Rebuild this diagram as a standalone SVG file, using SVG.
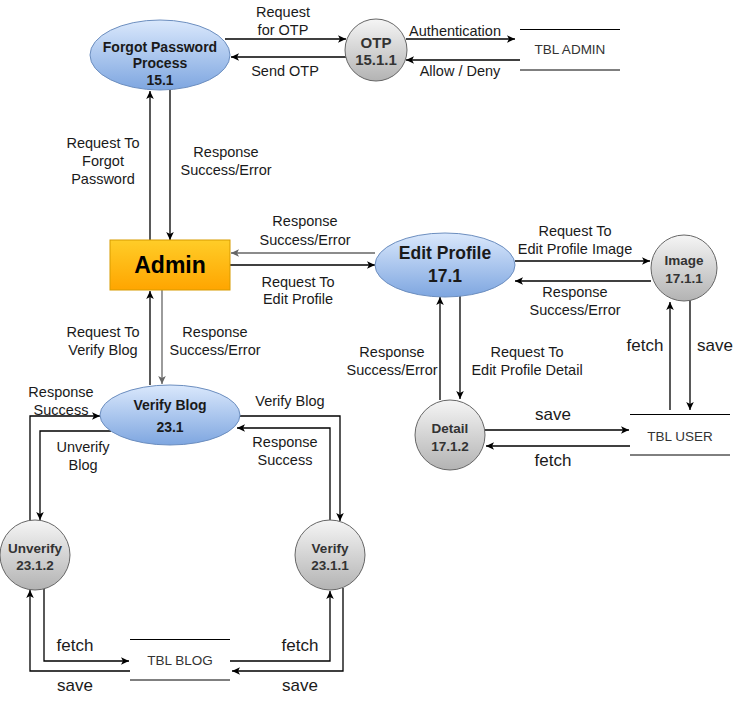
<svg xmlns="http://www.w3.org/2000/svg" width="741" height="701" viewBox="0 0 741 701">
<defs>
<linearGradient id="gBlue" x1="0" y1="0" x2="0" y2="1"><stop offset="0" stop-color="#dae8fc"/><stop offset="1" stop-color="#7ea6e0"/></linearGradient>
<linearGradient id="gGray" x1="0" y1="0" x2="0" y2="1"><stop offset="0" stop-color="#f5f5f5"/><stop offset="1" stop-color="#b3b3b3"/></linearGradient>
<linearGradient id="gOrange" x1="0" y1="0" x2="0" y2="1"><stop offset="0" stop-color="#ffcd28"/><stop offset="1" stop-color="#ffa500"/></linearGradient>
<marker id="arr" markerUnits="userSpaceOnUse" markerWidth="10" markerHeight="10" viewBox="0 0 10 10" refX="9" refY="5" orient="auto"><path d="M1,1.2 L9,5 L1,8.8 L3,5 Z" fill="#000"/></marker>
<marker id="arrG" markerUnits="userSpaceOnUse" markerWidth="10" markerHeight="10" viewBox="0 0 10 10" refX="9" refY="5" orient="auto"><path d="M1,1.2 L9,5 L1,8.8 L3,5 Z" fill="#666"/></marker>
<style>
.c{fill:none;stroke:#000;stroke-width:1.3;marker-end:url(#arr)}
.cg{fill:none;stroke:#666;stroke-width:1.3;marker-end:url(#arrG)}
.st{fill:none;stroke:#000;stroke-width:1}
.blue{fill:url(#gBlue);stroke:#6c8ebf;stroke-width:1}
.gray{fill:url(#gGray);stroke:#666;stroke-width:1}
text{font-family:"Liberation Sans",Arial,sans-serif;text-anchor:middle;dominant-baseline:central}
.lb{font-size:14.5px;fill:#1a1a1a}
.big{font-size:17px;fill:#1a1a1a}
.nb{font-weight:bold;font-size:14px;fill:#1a1a1a}
.cb{font-weight:bold;font-size:13.5px;fill:#333}
.tb{font-size:13.5px;fill:#333}
</style>
</defs>

<g id="connectors">
<path class="c" d="M225,39 H346"/>
<path class="c" d="M347,57 H231"/>
<path class="c" d="M406,39 H515"/>
<path class="c" d="M520,60 H406"/>
<path class="c" d="M150,240 V91"/>
<path class="c" d="M170,90 V240"/>
<path class="cg" d="M375,253 H231"/>
<path class="c" d="M230,265 H375"/>
<path class="c" d="M515,261 H650"/>
<path class="c" d="M651,281 H515"/>
<path class="c" d="M670,410 V302"/>
<path class="c" d="M690,300 V410"/>
<path class="c" d="M440,400 V297"/>
<path class="c" d="M460,296 V399"/>
<path class="c" d="M485,430 H629"/>
<path class="c" d="M630,446 H486"/>
<path class="c" d="M150,385 V291"/>
<path class="cg" d="M162,290 V384"/>
<path class="c" d="M30,521 V416 H100"/>
<path class="c" d="M111,431 H40 V520"/>
<path class="c" d="M240,416 H340 V521"/>
<path class="c" d="M330,520 V428 H237"/>
<path class="c" d="M44,589 V661 H129"/>
<path class="c" d="M130,671 H30 V590"/>
<path class="c" d="M230,661 H330 V591"/>
<path class="c" d="M343,588 V671 H232"/>
</g>

<g id="labels">
<text class="lb" x="283" y="12">Request</text>
<text class="lb" x="283" y="30">for OTP</text>
<text class="lb" x="285" y="71">Send OTP</text>
<text class="lb" x="455" y="31">Authentication</text>
<text class="lb" x="460" y="71">Allow / Deny</text>
<text class="lb" x="103" y="143">Request To</text>
<text class="lb" x="103" y="161">Forgot</text>
<text class="lb" x="103" y="179">Password</text>
<text class="lb" x="226" y="152">Response</text>
<text class="lb" x="226" y="170">Success/Error</text>
<text class="lb" x="305" y="221">Response</text>
<text class="lb" x="305" y="240">Success/Error</text>
<text class="lb" x="298" y="282">Request To</text>
<text class="lb" x="298" y="299">Edit Profile</text>
<text class="lb" x="575" y="231">Request To</text>
<text class="lb" x="575" y="249">Edit Profile Image</text>
<text class="lb" x="575" y="292">Response</text>
<text class="lb" x="575" y="310">Success/Error</text>
<text class="big" x="645" y="345">fetch</text>
<text class="big" x="715" y="345">save</text>
<text class="lb" x="392" y="352">Response</text>
<text class="lb" x="392" y="370">Success/Error</text>
<text class="lb" x="527" y="352">Request To</text>
<text class="lb" x="527" y="370">Edit Profile Detail</text>
<text class="big" x="553" y="414">save</text>
<text class="big" x="553" y="460">fetch</text>
<text class="lb" x="103" y="332">Request To</text>
<text class="lb" x="103" y="350">Verify Blog</text>
<text class="lb" x="215" y="332">Response</text>
<text class="lb" x="215" y="350">Success/Error</text>
<text class="lb" x="61" y="392">Response</text>
<text class="lb" x="61" y="410">Success</text>
<text class="lb" x="83" y="447">Unverify</text>
<text class="lb" x="83" y="465">Blog</text>
<text class="lb" x="290" y="401">Verify Blog</text>
<text class="lb" x="285" y="442">Response</text>
<text class="lb" x="285" y="460">Success</text>
<text class="big" x="75" y="645">fetch</text>
<text class="big" x="75" y="685">save</text>
<text class="big" x="300" y="645">fetch</text>
<text class="big" x="300" y="685">save</text>
</g>

<g id="forgot-password">
<ellipse class="blue" cx="160" cy="55" rx="70" ry="35"/>
<text class="nb" x="160" y="47">Forgot Password</text>
<text class="nb" x="160" y="63">Process</text>
<text class="nb" x="160" y="80">15.1</text>
</g>
<g id="otp">
<circle class="gray" cx="376" cy="50" r="31"/>
<text class="cb" x="376" y="42" style="font-size:15px">OTP</text>
<text class="cb" x="376" y="59" style="font-size:15px">15.1.1</text>
</g>
<g id="tbl-admin">
<line class="st" x1="520" y1="29.5" x2="620" y2="29.5"/>
<line class="st" x1="520" y1="70" x2="620" y2="70"/>
<text class="tb" x="570" y="49">TBL ADMIN</text>
</g>
<g id="admin">
<rect x="110" y="240" width="120" height="50" fill="url(#gOrange)" stroke="#d79b00" stroke-width="1"/>
<text x="170" y="265" style="font-weight:bold;font-size:23px;fill:#000">Admin</text>
</g>
<g id="edit-profile">
<ellipse class="blue" cx="445" cy="265" rx="70" ry="32"/>
<text x="445" y="253" style="font-weight:bold;font-size:17.5px;fill:#1a1a1a">Edit Profile</text>
<text x="445" y="276" style="font-weight:bold;font-size:17.5px;fill:#1a1a1a">17.1</text>
</g>
<g id="image">
<circle class="gray" cx="684" cy="268" r="33"/>
<text class="cb" x="684" y="260">Image</text>
<text class="cb" x="684" y="278">17.1.1</text>
</g>
<g id="detail">
<circle class="gray" cx="450" cy="435" r="35"/>
<text class="cb" x="450" y="428">Detail</text>
<text class="cb" x="450" y="446">17.1.2</text>
</g>
<g id="tbl-user">
<line class="st" x1="630" y1="414.5" x2="730" y2="414.5"/>
<line class="st" x1="630" y1="455" x2="730" y2="455"/>
<text class="tb" x="680" y="436">TBL USER</text>
</g>
<g id="verify-blog">
<ellipse class="blue" cx="170" cy="415" rx="70" ry="30"/>
<text class="nb" x="170" y="405">Verify Blog</text>
<text class="nb" x="170" y="427">23.1</text>
</g>
<g id="unverify">
<circle class="gray" cx="35" cy="555" r="35"/>
<text class="cb" x="35" y="548">Unverify</text>
<text class="cb" x="35" y="565">23.1.2</text>
</g>
<g id="verify">
<circle class="gray" cx="330" cy="555" r="35"/>
<text class="cb" x="330" y="548">Verify</text>
<text class="cb" x="330" y="565">23.1.1</text>
</g>
<g id="tbl-blog">
<line class="st" x1="130" y1="639.5" x2="230" y2="639.5"/>
<line class="st" x1="130" y1="680" x2="230" y2="680"/>
<text class="tb" x="180" y="660">TBL BLOG</text>
</g>
</svg>
